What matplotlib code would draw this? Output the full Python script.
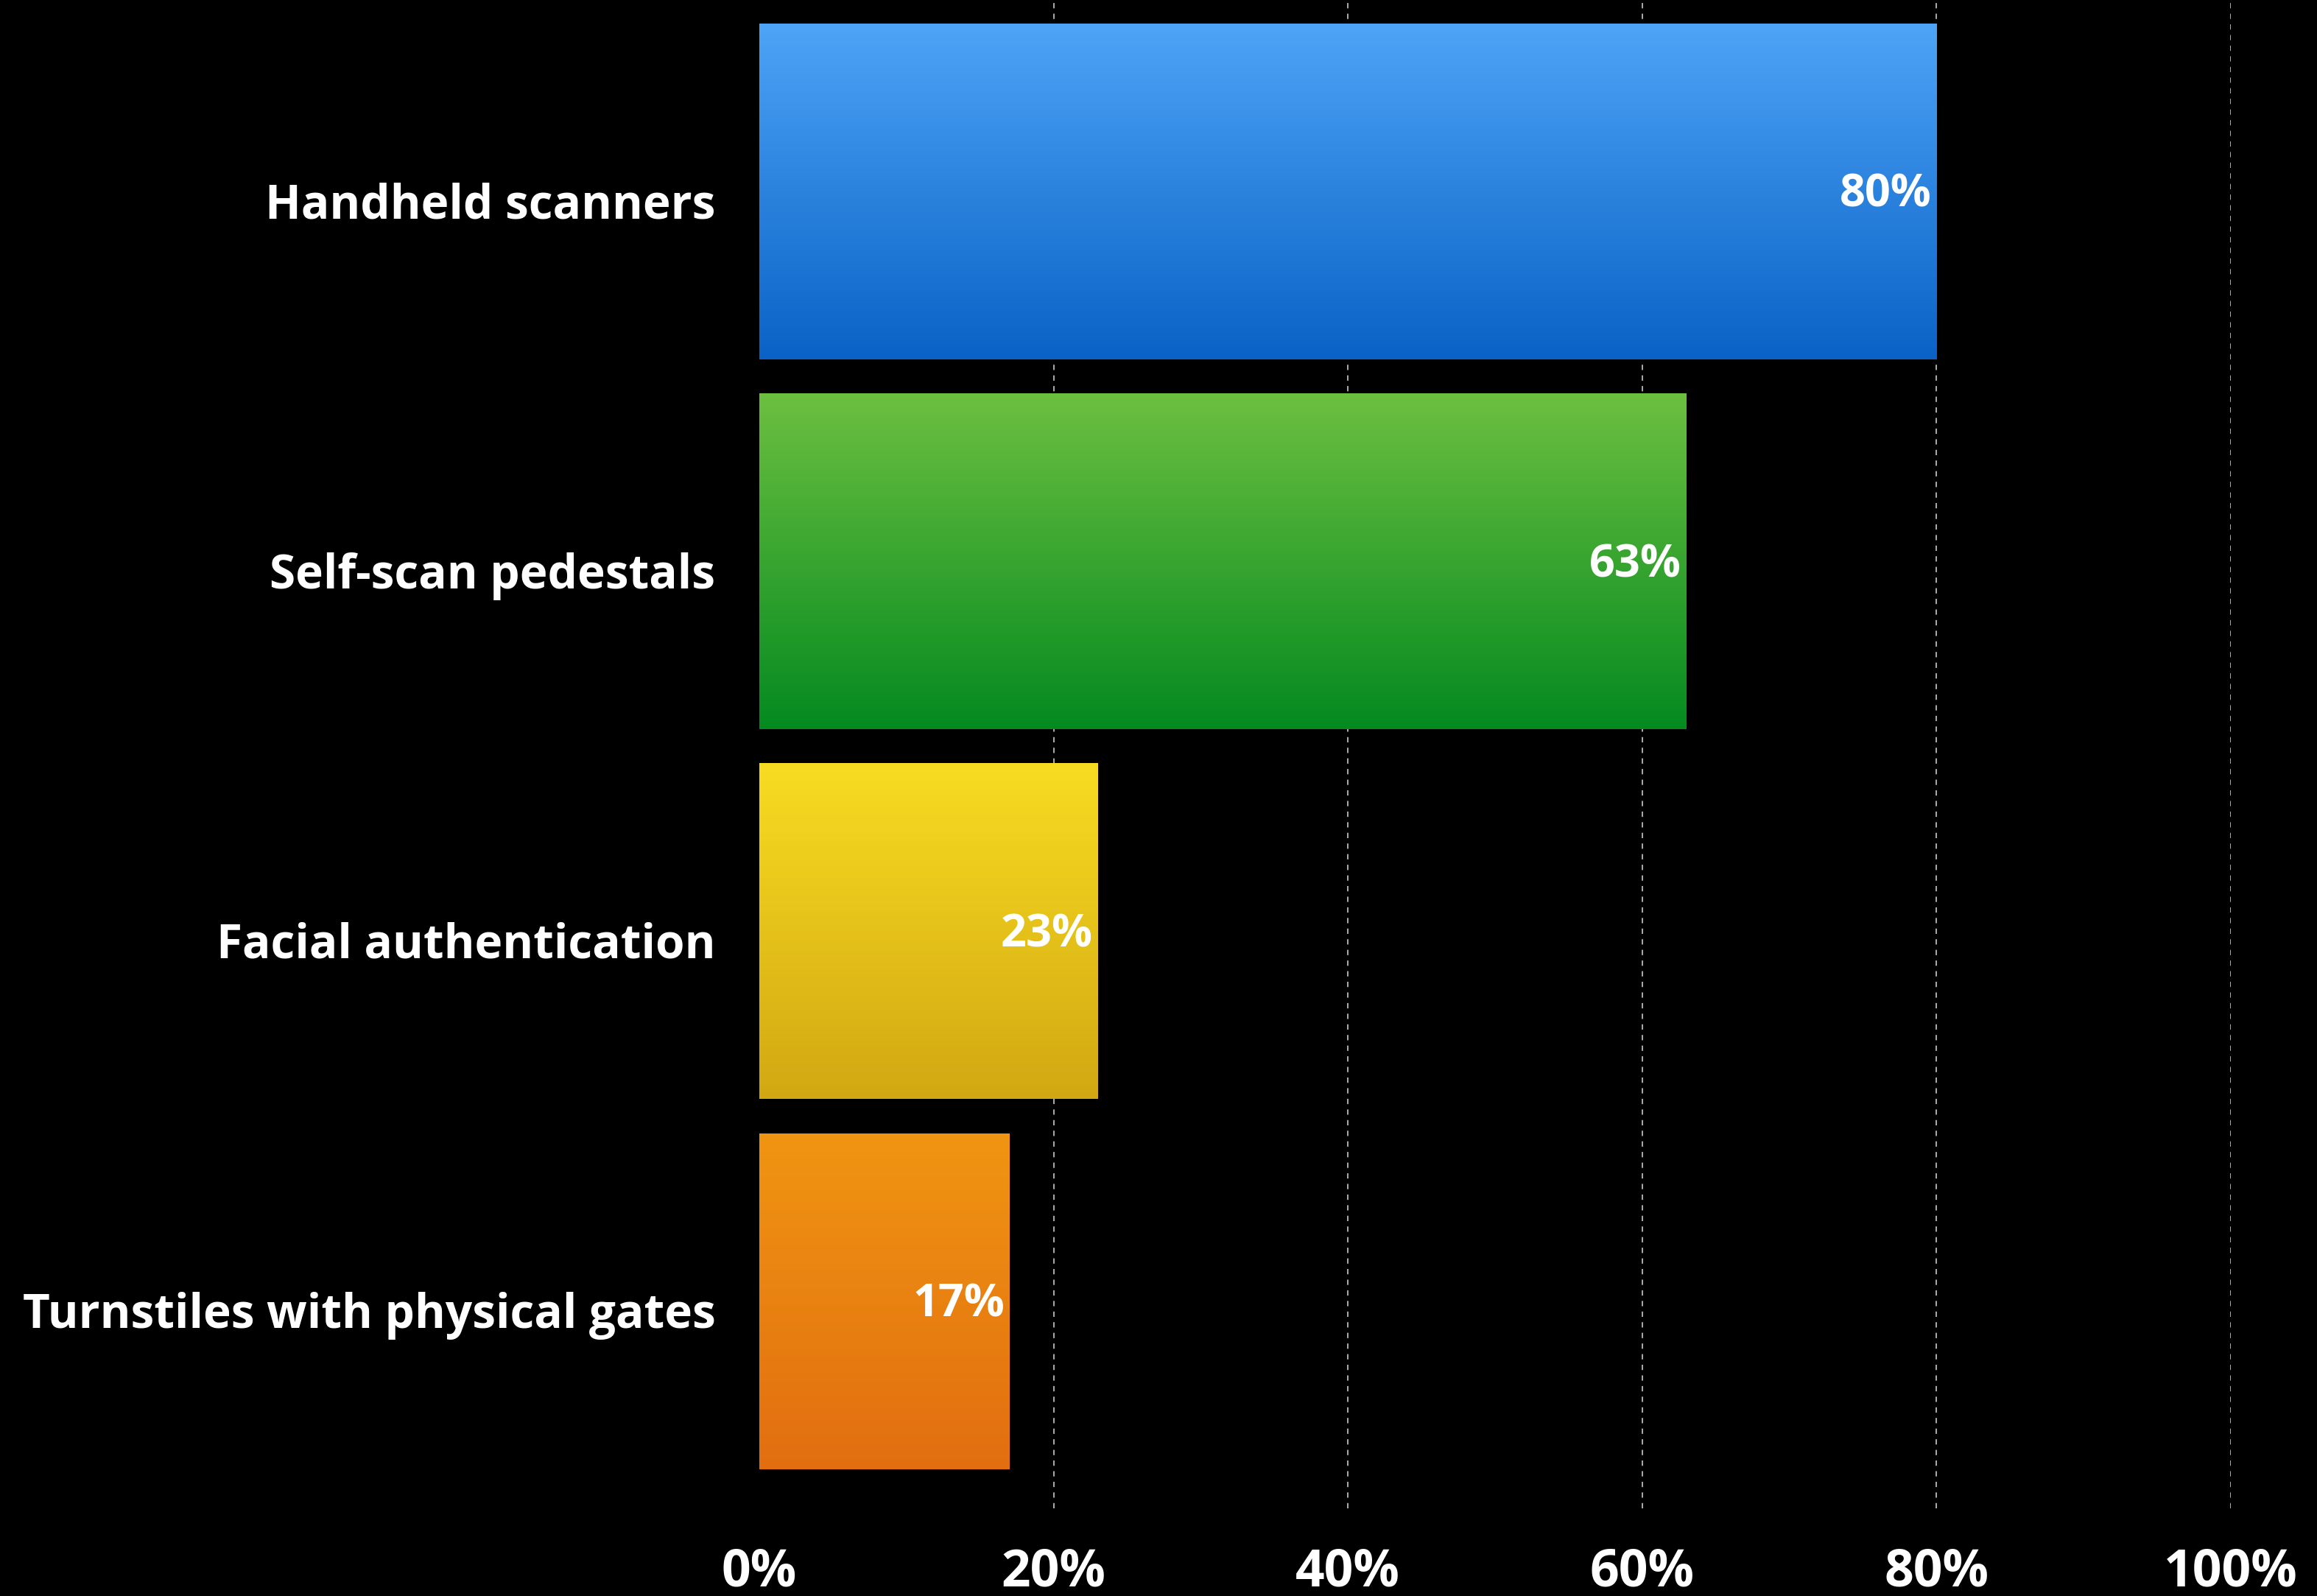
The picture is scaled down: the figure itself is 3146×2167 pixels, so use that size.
import numpy as np
import matplotlib
matplotlib.use("Agg")
import matplotlib.pyplot as plt
import matplotlib.transforms as mtransforms
from matplotlib.colors import LinearSegmentedColormap
from matplotlib.ticker import FuncFormatter

categories = ["Handheld scanners", "Self-scan pedestals", "Facial authentication", "Turnstiles with physical gates"]
values = [80, 63, 23, 17]
xticks = [0, 20, 40, 60, 80, 100]
top_colors = ["#4ea4f6", "#6cc040", "#f8dc22", "#f09512"]
bottom_colors = ["#0a62c6", "#048a20", "#d2a812", "#e26e10"]

FONT = ["Open Sans", "DejaVu Sans"]

fig = plt.figure(figsize=(31.46, 21.67), dpi=100, facecolor="black")
ax = fig.add_axes([1031/3146, 1 - 2048/2167, (3029-1031)/3146, 2048/2167])
ax.set_facecolor("black")

y = np.arange(len(categories))
height = 0.908
bars = ax.barh(y, values, height=height, color=bottom_colors, zorder=2, linewidth=0)

grad = np.linspace(0, 1, 256).reshape(-1, 1)
for bar, c0, c1 in zip(bars, top_colors, bottom_colors):
    x0, y0 = bar.get_x(), bar.get_y()
    w, h = bar.get_width(), bar.get_height()
    cmap = LinearSegmentedColormap.from_list("g", [c0, c1])
    im = ax.imshow(grad, extent=[x0, x0 + w, y0 + h, y0], aspect="auto", cmap=cmap,
                   zorder=3, interpolation="bicubic")
    im.set_clip_path(bar)

for yi, v in zip(y, values):
    ax.annotate(f"{v}%", xy=(v, yi), xytext=(-5, -4), textcoords="offset points",
                ha="right", va="center", color="white", fontsize=44, fontweight="bold",
                family=FONT, zorder=5)

ax.set_xlim(0, 100)
ax.set_ylim(3.56, -0.517)
ax.set_xticks(xticks)
ax.xaxis.set_major_formatter(FuncFormatter(lambda v, p: f"{v:.0f}%"))
ax.set_yticks(y)
ax.set_yticklabels(categories)
ax.tick_params(axis="x", length=0, pad=38, labelsize=50, colors="white")
ax.tick_params(axis="y", length=0, pad=43, labelsize=46, colors="white")
shift = mtransforms.ScaledTranslation(0, -0.12, fig.dpi_scale_trans)
for lab in ax.get_yticklabels():
    lab.set_transform(lab.get_transform() + shift)
for lab in ax.get_xticklabels() + ax.get_yticklabels():
    lab.set_fontweight("bold")
    lab.set_family(FONT)

for xv in xticks[1:]:
    ax.axvline(xv, color="#bbbbbb", linestyle=(0, (4, 4)), linewidth=1.3, zorder=1)

for s in ax.spines.values():
    s.set_visible(False)

fig.savefig("out.png", dpi=100, facecolor="black")
